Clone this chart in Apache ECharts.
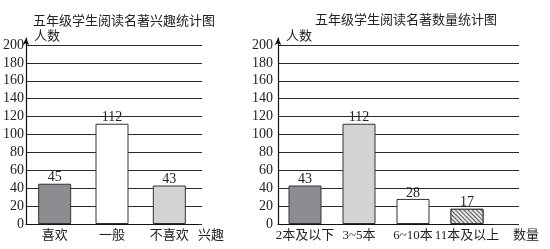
<!DOCTYPE html>
<html><head><meta charset="utf-8">
<script src="https://cdn.jsdelivr.net/npm/echarts@6/dist/echarts.min.js"></script>
<style>html,body{margin:0;padding:0;background:#fff}#c{width:550px;height:249px}</style>
</head><body><div id="c"></div>
<script>
const titleLeft = '五年级学生阅读名著兴趣统计图';
const titleRight = '五年级学生阅读名著数量统计图';
const yName = '人数';
const interestCats = ['喜欢', '一般', '不喜欢'];
const interestVals = [45, 112, 43];
const interestAxisName = '兴趣';
const amountCats = ['2本及以下', '3~5本', '6~10本', '11本及以上'];
const amountVals = [43, 112, 28, 17];
const amountAxisName = '数量';
const yTicks = [0, 20, 40, 60, 80, 100, 120, 140, 160, 180, 200];

const serif = '"Liberation Serif","Noto Sans CJK SC",serif';
const dark = '#8c8c91', light = '#d3d3d3', white = '#ffffff';
const hatch = { color: '#ffffff', decal: { symbol: 'rect', symbolSize: 1, dashArrayX: [1, 0], dashArrayY: [1, 2], rotation: Math.PI / 4, color: '#555', backgroundColor: '#e8e8e8' } };

const chart = echarts.init(document.getElementById('c'), null, { renderer: 'canvas' });
const TOP = 45, H = 179;
const yMin = yTicks[0], yMax = yTicks[yTicks.length - 1], yInt = yTicks[1] - yTicks[0];

const grids = [
  { left: 26, top: TOP, width: 176, height: H },   // 0 left wide (split lines)
  { left: 26, top: TOP, width: 172, height: H },   // 1 left bars
  { left: 26, top: 38, width: 176, height: H + 7 }, // 2 left arrow axis
  { left: 278, top: TOP, width: 241, height: H },  // 3 right wide
  { left: 278, top: TOP, width: 216, height: H },  // 4 right bars
  { left: 278, top: 38, width: 241, height: H + 7 } // 5 right arrow axis
];

const labelStyle = { fontFamily: serif, fontSize: 14, color: '#222' };
const catStyle = { fontFamily: serif, fontSize: 13, color: '#222' };

function wideY(grid, margin) {
  return { type: 'value', gridIndex: grid, min: yMin, max: yMax, interval: yInt,
    axisLine: { show: false }, axisTick: { show: false },
    axisLabel: Object.assign({ margin: margin }, labelStyle),
    splitLine: { show: true, lineStyle: { color: '#2a2a2a', width: 1 } } };
}
function hiddenY(grid) {
  return { type: 'value', gridIndex: grid, min: yMin, max: yMax, interval: yInt, show: false };
}
function arrowY(grid) {
  return { type: 'value', gridIndex: grid, min: 0, max: 1, axisLabel: { show: false }, axisTick: { show: false },
    splitLine: { show: false },
    axisLine: { show: true, lineStyle: { color: '#111', width: 1.2 }, symbol: ['none', 'arrow'], symbolSize: [5, 7] },
    name: yName, nameLocation: 'end', nameGap: 0,
    nameTextStyle: { fontFamily: '"Noto Sans CJK SC",sans-serif', fontSize: 13, color: '#222', align: 'left', verticalAlign: 'bottom', padding: [0, 0, -4, 8] } };
}
function hiddenX(grid) {
  return { type: 'value', gridIndex: grid, show: false, min: 0, max: 1 };
}
function barX(grid, cats, name, gap) {
  return { type: 'category', gridIndex: grid, data: cats, boundaryGap: true,
    axisLine: { show: true, lineStyle: { color: '#111', width: 1.2 } }, axisTick: { show: false },
    axisLabel: Object.assign({ margin: 5, interval: 0 }, catStyle),
    name: name, nameLocation: 'end', nameGap: gap,
    nameTextStyle: { fontFamily: serif, fontSize: 13, color: '#222', align: 'left', verticalAlign: 'top', padding: [5, 0, 0, 0] } };
}

const interestStyles = [{ color: dark }, { color: white }, { color: light }];
const amountStyles = [{ color: dark }, { color: light }, { color: white }, hatch];

function barSeries(xi, yi, vals, styles) {
  return { type: 'bar', xAxisIndex: xi, yAxisIndex: yi, barWidth: 33,
    data: vals.map((v, i) => ({ value: v, itemStyle: Object.assign({ borderColor: '#333', borderWidth: 1 }, styles[i]) })),
    label: Object.assign({ show: true, position: 'top', distance: -1 }, labelStyle) };
}

chart.setOption({
  animation: false,
  backgroundColor: '#fff',
  title: [
    { text: titleLeft, left: 119, top: 9, textAlign: 'center', textStyle: { fontFamily: '"Noto Sans CJK SC",sans-serif', fontSize: 13, fontWeight: 'normal', color: '#222' } },
    { text: titleRight, left: 401, top: 8, textAlign: 'center', textStyle: { fontFamily: '"Noto Sans CJK SC",sans-serif', fontSize: 13, fontWeight: 'normal', color: '#222' } }
  ],
  grid: grids,
  xAxis: [
    hiddenX(0), barX(1, interestCats, interestAxisName, 0), hiddenX(2),
    hiddenX(3), barX(4, amountCats, amountAxisName, 19), hiddenX(5)
  ],
  yAxis: [
    wideY(0, 2), hiddenY(1), arrowY(2),
    wideY(3, 5), hiddenY(4), arrowY(5)
  ],
  series: [
    barSeries(1, 1, interestVals, interestStyles),
    barSeries(4, 4, amountVals, amountStyles)
  ]
});
</script></body></html>
